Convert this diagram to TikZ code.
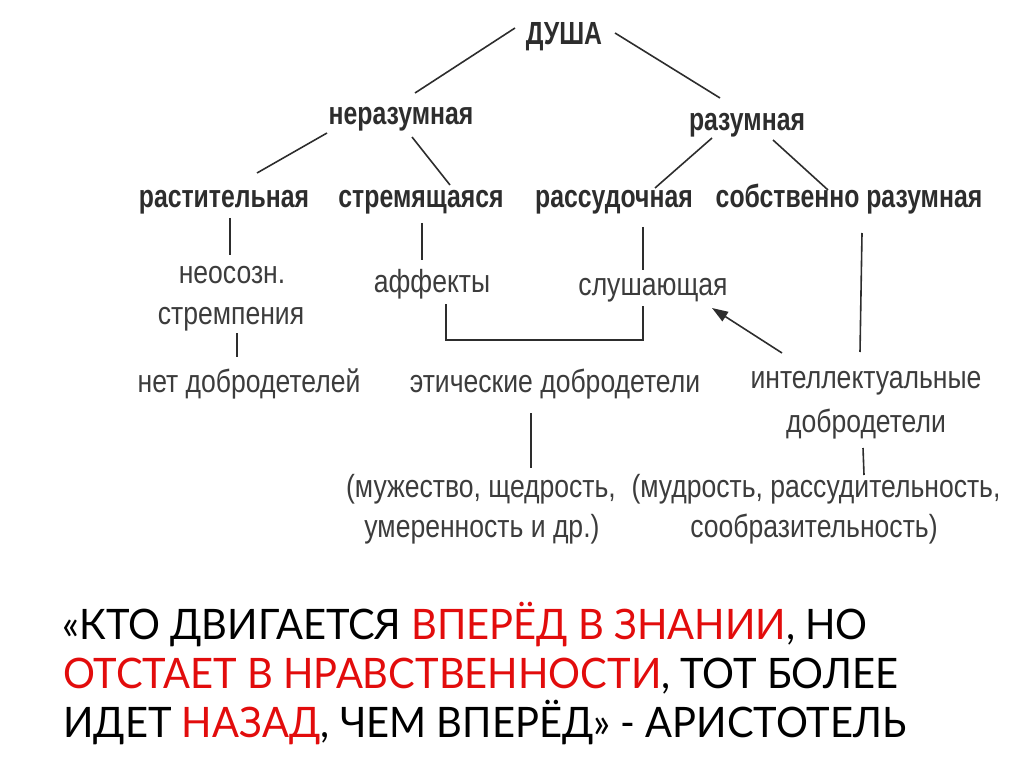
\documentclass[tikz,border=0pt]{standalone}
\usepackage{fontspec}
\setmainfont{Liberation Sans}
\newfontfamily\cndb{Liberation Sans}[FakeStretch=0.775]
\newfontfamily\cndr{Liberation Sans}[FakeStretch=0.83]
\newfontfamily\qf{Lato}[FakeStretch=0.95]
\usetikzlibrary{arrows.meta}
\definecolor{qred}{RGB}{226,12,12}
\definecolor{ink}{RGB}{45,45,45}
\definecolor{inkr}{RGB}{60,60,60}
\tikzset{
  bl/.style={inner sep=0pt, anchor=base, text=ink, font=\cndb\bfseries\fontsize{32}{34}\selectfont},
  rl/.style={inner sep=0pt, anchor=base, text=inkr, font=\cndr\fontsize{32}{34}\selectfont},
  ql/.style={inner sep=0pt, anchor=base west, text=black, font=\qf\fontsize{42}{48}\selectfont},
  cn/.style={draw=ink, line width=1.6pt},
}
\begin{document}
\begin{tikzpicture}[x=1pt,y=-1pt]
\useasboundingbox (0,0) rectangle (1024,767);
% nodes
\node[bl] (dusha)  at (564,45)  {ДУША};
\node[bl] (neraz)  at (401,125) {неразумная};
\node[bl] (razum)  at (747,131) {разумная};
\node[bl] (rast)   at (224,208) {растительная};
\node[bl] (strem)  at (421,208) {стремящаяся};
\node[bl] (rassud) at (614,208) {рассудочная};
\node[bl] (sobst)  at (849,208) {собственно разумная};
\node[rl] (neo)    at (232,283) {неосозн.};
\node[rl] (neo2)   at (231,324) {стремпения};
\node[rl] (net)    at (249,392) {нет добродетелей};
\node[rl] (aff)    at (432,292) {аффекты};
\node[rl] (slush)  at (653,295) {слушающая};
\node[rl] (etich)  at (555,392) {этические добродетели};
\node[rl] (intel)  at (866,388) {интеллектуальные};
\node[rl] (intel2) at (866,432) {добродетели};
\node[rl] (muzh)   at (481,497) {(мужество, щедрость,};
\node[rl] (umer)   at (482,537) {умеренность и др.)};
\node[rl] (mudr)   at (816,497) {(мудрость, рассудительность,};
\node[rl] (soobr)  at (814,537) {сообразительность)};
% connectors
\draw[cn] ([shift={(-49,-17)}]dusha.base) -- ([shift={(14,-32)}]neraz.base);
\draw[cn] ([shift={(51,-12)}]dusha.base) -- ([shift={(-27,-33)}]razum.base);
\draw[cn] ([shift={(-74,8)}]neraz.base) -- ([shift={(33,-35)}]rast.base);
\draw[cn] ([shift={(11,12)}]neraz.base) -- ([shift={(29,-23)}]strem.base);
\draw[cn] ([shift={(-35,7)}]razum.base) -- ([shift={(41,-20)}]rassud.base);
\draw[cn] ([shift={(26,9)}]razum.base) -- ([shift={(-21,-18)}]sobst.base);
\draw[cn] ([shift={(6,10)}]rast.base) -- ([shift={(-2,-28)}]neo.base);
\draw[cn] ([shift={(6,9)}]neo2.base) -- ([shift={(-12,-35)}]net.base);
\draw[cn] ([shift={(1,15)}]strem.base) -- ([shift={(-10,-32)}]aff.base);
\draw[cn] ([shift={(29,19)}]rassud.base) -- ([shift={(-10,-25)}]slush.base);
\draw[cn] ([shift={(14,12)}]aff.base) |- ([shift={(-10,45)}]slush.base) -- ([shift={(-10,11)}]slush.base);
\draw[cn, -{Triangle[length=16pt,width=11pt]}] ([shift={(-84,-35)}]intel.base) -- ([shift={(59,13)}]slush.base);
\draw[cn] ([shift={(13,25)}]sobst.base) -- ([shift={(-6,-36)}]intel.base);
\draw[cn] ([shift={(-24,21)}]etich.base) -- ([shift={(50,-29)}]muzh.base);
\draw[cn] ([shift={(-3,16)}]intel2.base) -- ([shift={(48,-22)}]mudr.base);
% quote
\node[ql] (q1) at (62,639) {«КТО ДВИГАЕТСЯ \textcolor{qred}{ВПЕРЁД В ЗНАНИИ}, НО};
\node[ql] (q2) at (63,688) {\textcolor{qred}{ОТСТАЕТ В НРАВСТВЕННОСТИ}, ТОТ БОЛЕЕ};
\node[ql] (q3) at (63,737) {ИДЕТ \textcolor{qred}{НАЗАД}, ЧЕМ ВПЕРЁД» - АРИСТОТЕЛЬ};
\end{tikzpicture}
\end{document}
